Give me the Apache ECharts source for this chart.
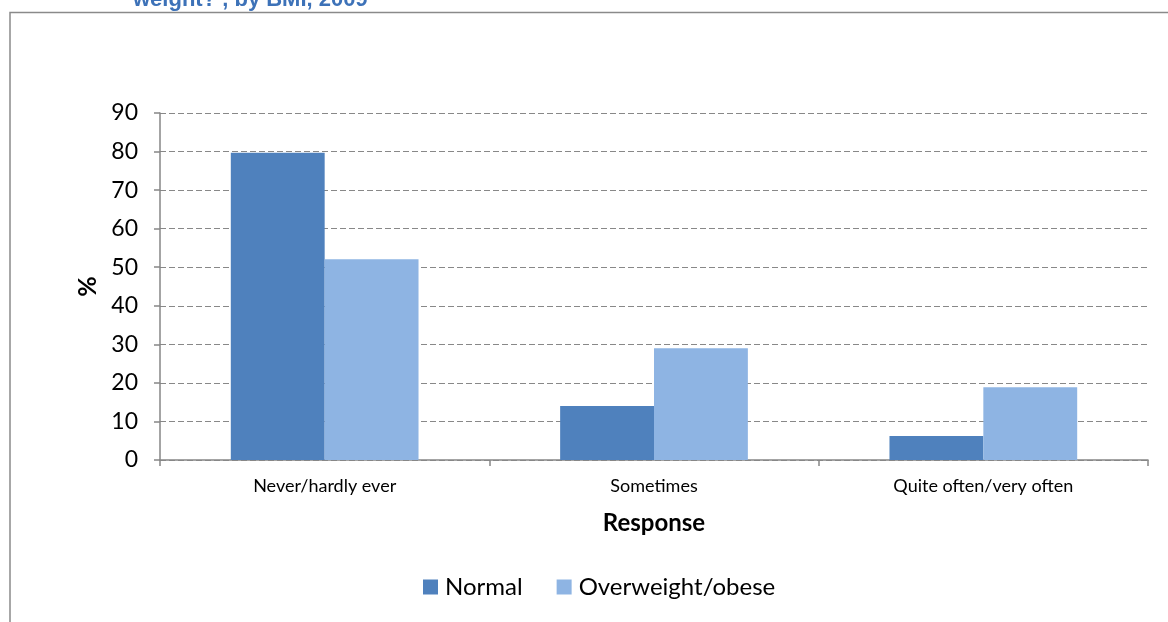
<!DOCTYPE html>
<html>
<head>
<meta charset="utf-8">
<script src="https://cdn.jsdelivr.net/npm/echarts@6/dist/echarts.min.js"></script>
<style>
  html, body { margin: 0; padding: 0; background: #fff; }
  #chart { width: 1168px; height: 622px; }
</style>
</head>
<body>
<div id="chart"></div>
<script>
// Responses to "how often ... weight?" by BMI group
const categories = ['Never/hardly ever', 'Sometimes', 'Quite often/very often'];
const normal = [79.7, 14.0, 6.2];
const overweight = [52.1, 29.0, 18.9];
const yTicks = { min: 0, max: 90, interval: 10 };

const FONT = 'Lato, "Open Sans", sans-serif';
const chart = echarts.init(document.getElementById('chart'), null, { renderer: 'canvas' });

chart.setOption({
  backgroundColor: '#ffffff',
  animation: false,
  graphic: [
    {
      type: 'rect',
      shape: { x: 10, y: 12.5, width: 1300, height: 800 },
      style: { fill: 'none', stroke: '#8a8a8a', lineWidth: 1.5 },
      silent: true
    },
    {
      type: 'text',
      x: 133,
      y: 11,
      style: {
        text: 'weight?\u2019, by BMI, 2009',
        font: 'bold 22px "Liberation Sans", Arial, sans-serif',
        fill: '#3d72b8',
        verticalAlign: 'bottom'
      },
      silent: true
    }
  ],
  grid: { left: 160, right: 20, top: 113, bottom: 162, containLabel: false },
  legend: {
    data: ['Normal', 'Overweight/obese'],
    top: 570,
    left: 418,
    itemWidth: 15,
    itemHeight: 15,
    itemGap: 34,
    icon: 'rect',
    textStyle: { fontFamily: FONT, fontSize: 24, color: '#000', padding: [0, 0, 0, 2] }
  },
  xAxis: {
    type: 'category',
    data: categories,
    name: 'Response',
    nameLocation: 'middle',
    nameGap: 51,
    nameTextStyle: { fontFamily: FONT, fontSize: 24, fontWeight: 'bold', color: '#000' },
    axisLine: { lineStyle: { color: '#868686', width: 1.5 } },
    axisTick: { show: true, length: 6, lineStyle: { color: '#868686', width: 1.5 } },
    axisLabel: { fontFamily: FONT, fontSize: 18, color: '#000', margin: 17 }
  },
  yAxis: {
    type: 'value',
    min: yTicks.min,
    max: yTicks.max,
    interval: yTicks.interval,
    name: '%',
    nameLocation: 'middle',
    nameGap: 60,
    nameRotate: 90,
    nameTextStyle: { fontFamily: FONT, fontSize: 25, fontWeight: 'bold', color: '#000' },
    axisLine: { show: true, lineStyle: { color: '#868686', width: 1.5 } },
    axisTick: { show: true, length: 6, lineStyle: { color: '#868686', width: 1.5 } },
    axisLabel: { fontFamily: FONT, fontSize: 23, color: '#000', margin: 22 },
    splitLine: { show: true, lineStyle: { color: '#888888', type: [6, 3], width: 1 } }
  },
  series: [
    {
      name: 'Normal',
      type: 'bar',
      data: normal,
      barGap: '0%',
      barCategoryGap: '43%',
      itemStyle: { color: '#4f81bd' }
    },
    {
      name: 'Overweight/obese',
      type: 'bar',
      data: overweight,
      barGap: '0%',
      barCategoryGap: '43%',
      itemStyle: { color: '#8eb4e3' }
    }
  ]
});
</script>
</body>
</html>
